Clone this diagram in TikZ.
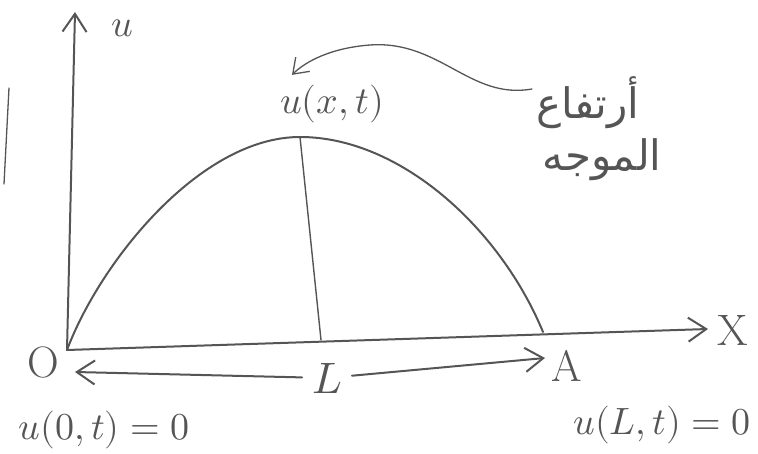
\documentclass[tikz,border=0pt]{standalone}
\usepackage{unicode-math}
\newfontfamily\arabicfont[Script=Arabic]{DejaVu Sans}
\TeXXeTstate=1
\usetikzlibrary{arrows.meta}
\definecolor{pencil}{RGB}{85,85,85}
\tikzset{
  stroke/.style={draw=pencil, line width=2pt, line cap=round},
  arrow/.style={stroke, -{Straight Barb[length=18pt,width=24pt]}},
  thinarrow/.style={draw=pencil, line width=1.3pt, line cap=round, -{Straight Barb[length=14pt,width=20pt]}},
  txt/.style={text=pencil, font=\fontsize{38}{42}\selectfont, inner sep=0pt},
  bigtxt/.style={txt, font=\fontsize{44}{48}\selectfont},
  arab/.style={txt, font=\arabicfont\fontsize{42}{46}\selectfont},
}
\begin{document}
\begin{tikzpicture}[x=1pt, y=-1pt]
\useasboundingbox (0,0) rectangle (758,454);

% ---- points on the axes ----
\coordinate (O) at (67,350);
\coordinate (A) at (543,332);
\coordinate (P) at (300,137);
\coordinate (F) at (321,340);
\coordinate (xend) at (708,329);
\coordinate (yend) at (75,12);
\coordinate (tail) at (532,89);

% ---- axes ----
\draw[arrow] (O) -- (xend);
\draw[arrow] (O) -- (yend);
\draw[stroke, line width=1.3pt] (9,88) -- (4,184);

% ---- the wave ----
\draw[stroke] (O) .. controls (100,262) and (200,137) .. (P) .. controls (400,137) and (500,228) .. (A);
\draw[stroke, line width=1.4pt] (P) -- (F);

% ---- labels ----
\node[bigtxt] (xlab) at (733,330) {X};
\node[txt] (ulab) at (122,28) {$u$};
\node[bigtxt] (olab) at (43,362) {O};
\node[bigtxt] (alab) at (567,366) {A};
\node[txt] (uxt) at (332,104) {$u(x,t)$};
\node[txt] (bc0) at (104,430) {$u(0,t)=0$};
\node[txt] (bcL) at (662,425) {$u(L,t)=0$};
\node[arab] (wave1) at (588,103) {\beginR أرتفاع\endR};
\node[arab] (wave2) at (602,160) {\beginR الموجه\endR};

% ---- length L ----
\coordinate (Lleft) at (75,372);
\coordinate (Lright) at (545,358);
\node[bigtxt, outer sep=10pt] (L) at (327,378) {$L$};
\draw[arrow] (L) -- (Lleft);
\draw[arrow] (L) -- (Lright);

% ---- pointer to the height ----
\draw[thinarrow] (tail) .. controls (470,100) and (440,40) .. (370,45) .. controls (330,48) and (305,62) .. ([xshift=12pt,yshift=10pt]uxt.north west);
\end{tikzpicture}
\end{document}
